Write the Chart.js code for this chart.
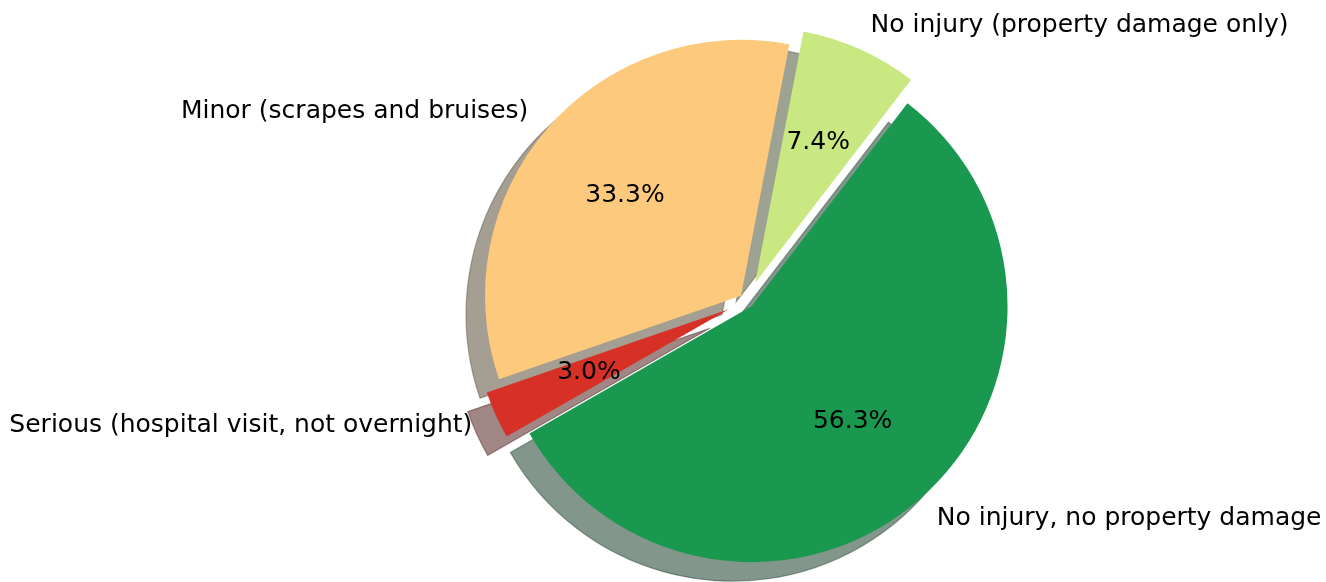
<!DOCTYPE html>
<html>
<head>
<meta charset="utf-8">
<script src="https://cdn.jsdelivr.net/npm/chart.js@4.4.0/dist/chart.umd.min.js"></script>
<style>
html, body { margin: 0; padding: 0; background: #fff; }
#wrap { width: 1326px; height: 582px; position: relative; }
</style>
</head>
<body>
<div id="wrap"><canvas id="pie"></canvas></div>
<script>
// Injury severity shares (%), clockwise from the red wedge
const labels = [
    'Serious (hospital visit, not overnight)',
    'Minor (scrapes and bruises)',
    'No injury (property damage only)',
    'No injury, no property damage'
];
const shares = [3.0, 33.3, 7.4, 56.3];
const colors = ['#d73027', '#fdca7d', '#cae881', '#1a9850'];

// wedge pull-out as a fraction of the radius (like matplotlib explode)
const explode = [0.078, 0.031, 0.078, 0.027];
const shadowShift = [-19, 19];
const labelFont = '25px "DejaVu Sans"';

function hexToRgb(hex) {
    const n = parseInt(hex.slice(1), 16);
    return [(n >> 16) & 255, (n >> 8) & 255, n & 255];
}

// offset of a wedge along its bisector
function pullOut(arc, i) {
    const mid = (arc.startAngle + arc.endAngle) / 2;
    const d = explode[i] * arc.outerRadius;
    return [Math.cos(mid) * d, Math.sin(mid) * d];
}

const pieExtras = {
    id: 'pieExtras',
    beforeDatasetDraw(chart, args) {
        const ctx = chart.ctx;
        const arcs = args.meta.data;

        // shadows go under every wedge
        arcs.forEach((arc, i) => {
            const [dx, dy] = pullOut(arc, i);
            const shade = hexToRgb(colors[i]).map(c => Math.round(c * 0.3)).join(',');
            ctx.save();
            ctx.translate(dx + shadowShift[0], dy + shadowShift[1]);
            ctx.beginPath();
            ctx.moveTo(arc.x, arc.y);
            ctx.arc(arc.x, arc.y, arc.outerRadius, arc.startAngle, arc.endAngle);
            ctx.closePath();
            ctx.fillStyle = `rgba(${shade},0.5)`;
            ctx.fill();
            ctx.strokeStyle = `rgba(${shade},0.4)`;
            ctx.lineWidth = 1.2;
            ctx.stroke();
            ctx.restore();
        });

        arcs.forEach((arc, i) => {
            const [dx, dy] = pullOut(arc, i);
            ctx.save();
            ctx.translate(dx, dy);
            arc.draw(ctx);
            ctx.restore();
        });
        return false;
    },
    afterDraw(chart) {
        const ctx = chart.ctx;
        const arcs = chart.getDatasetMeta(0).data;
        ctx.save();
        ctx.font = labelFont;
        ctx.fillStyle = '#000';
        ctx.textBaseline = 'middle';
        arcs.forEach((arc, i) => {
            const [dx, dy] = pullOut(arc, i);
            const mid = (arc.startAngle + arc.endAngle) / 2;
            const cx = arc.x + dx, cy = arc.y + dy;
            const r = arc.outerRadius;

            // category label at 1.1 r
            const lx = cx + Math.cos(mid) * r * 1.1;
            const ly = cy + Math.sin(mid) * r * 1.1;
            ctx.textAlign = lx > arc.x ? 'left' : 'right';
            ctx.fillText(labels[i], lx, ly);

            // percentage at 0.6 r
            ctx.textAlign = 'center';
            ctx.fillText(shares[i].toFixed(1) + '%', cx + Math.cos(mid) * r * 0.6, cy + Math.sin(mid) * r * 0.6);
        });
        ctx.restore();
    }
};

const pieChart = new Chart(document.getElementById('pie').getContext('2d'), {
    type: 'pie',
    data: {
        labels: labels,
        datasets: [{
            data: shares,
            backgroundColor: colors,
            borderWidth: 0
        }]
    },
    options: {
        responsive: true,
        maintainAspectRatio: false,
        animation: false,
        events: [],
        rotation: 240.2,
        radius: 256,
        layout: { padding: { left: 168, right: 0, top: 20, bottom: 0 } },
        plugins: {
            legend: { display: false },
            tooltip: { enabled: false }
        }
    },
    plugins: [pieExtras]
});
</script>
</body>
</html>
